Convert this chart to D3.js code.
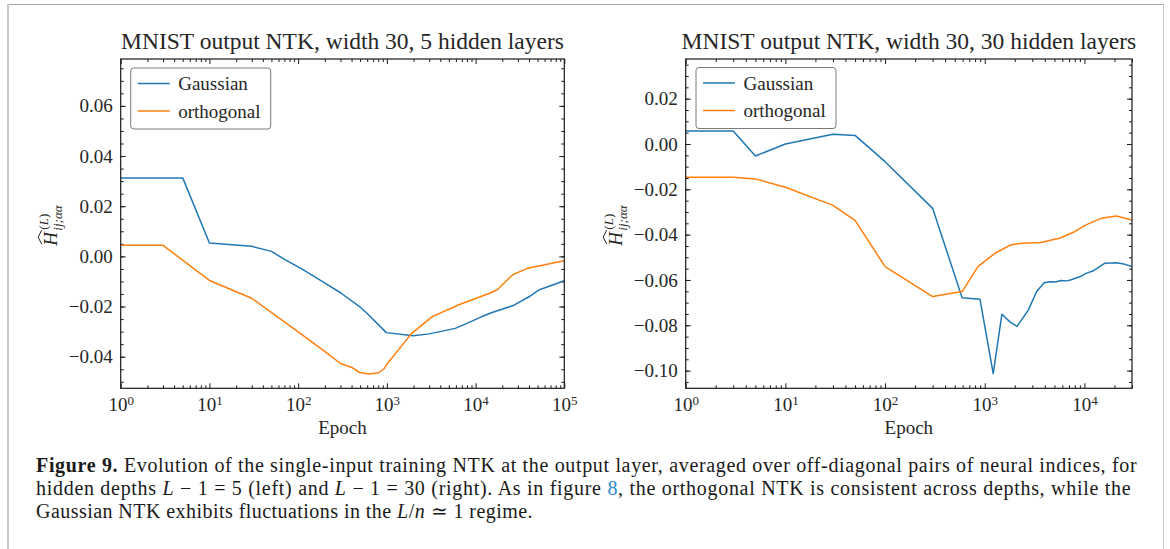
<!DOCTYPE html>
<html>
<head>
<meta charset="utf-8">
<script src="https://cdn.jsdelivr.net/npm/d3@7"></script>
<style>
  body { margin: 0; background: #fff; }
  svg { display: block; }
  text { font-family: "Liberation Serif", "Times New Roman", serif; fill: #262626; }
</style>
</head>
<body>
<svg id="fig" width="1170" height="549"></svg>
<script>
// ---- data: output-layer NTK (off-diagonal average) vs training epoch ----
// width 30, 5 hidden layers
const leftGaussianEpochs = [1, 5, 10, 30, 50, 71, 111, 201, 300, 492, 600, 986, 1977, 3000, 5900, 8000, 11800, 15900, 26180, 40000, 52400, 70000, 100000];
const leftGaussianValues = [0.0313, 0.0313, 0.0053, 0.0040, 0.0020, -0.0013, -0.0051, -0.0107, -0.0145, -0.0200, -0.0228, -0.0304, -0.0316, -0.0309, -0.0287, -0.0267, -0.0240, -0.0222, -0.0197, -0.0161, -0.0133, -0.0117, -0.0097];
const leftOrthogonalEpochs = [1, 3, 10, 30, 100, 201, 300, 403, 492, 630, 808, 938, 1000, 1880, 3250, 6500, 14400, 17600, 26180, 38900, 60000, 100000];
const leftOrthogonalValues = [0.0044, 0.0044, -0.0096, -0.0167, -0.0301, -0.0380, -0.0427, -0.0443, -0.0463, -0.0469, -0.0464, -0.0447, -0.0430, -0.0309, -0.0240, -0.0193, -0.0147, -0.0133, -0.0073, -0.0047, -0.0033, -0.0017];

// width 30, 30 hidden layers
const rightGaussianEpochs = [1, 3, 5, 10, 30, 50, 100, 300, 593, 895, 1216, 1486, 1800, 2108, 2340, 2740, 3315, 3950, 4500, 5140, 5800, 6690, 7500, 9080, 10360, 12340, 16050, 20850, 25000, 30000];
const rightGaussianValues = [0.0057, 0.0057, -0.0053, 0.0000, 0.0043, 0.0038, -0.0078, -0.0284, -0.0678, -0.0685, -0.1013, -0.0751, -0.0786, -0.0805, -0.0776, -0.0732, -0.0651, -0.0612, -0.0608, -0.0609, -0.0602, -0.0604, -0.0598, -0.0585, -0.0571, -0.0559, -0.0526, -0.0524, -0.0530, -0.0541];
const rightOrthogonalEpochs = [1, 3, 5, 10, 30, 50, 100, 300, 593, 857, 1268, 1800, 2340, 3625, 5610, 7960, 10360, 14700, 20850, 30000];
const rightOrthogonalValues = [-0.0147, -0.0147, -0.0154, -0.0191, -0.0271, -0.0337, -0.0541, -0.0673, -0.0651, -0.0540, -0.0482, -0.0446, -0.0438, -0.0435, -0.0416, -0.0387, -0.0357, -0.0328, -0.0318, -0.0335];

// ---- axis ticks and text ----
const seriesNames = ["Gaussian", "orthogonal"];
const seriesColors = ["#1f77b4", "#ff7f0e"];
const leftYTicks = [-0.04, -0.02, 0.00, 0.02, 0.04, 0.06];
const rightYTicks = [-0.10, -0.08, -0.06, -0.04, -0.02, 0.00, 0.02];
const leftXTicks = [1e0, 1e1, 1e2, 1e3, 1e4, 1e5];
const rightXTicks = [1e0, 1e1, 1e2, 1e3, 1e4];
const titles = ["MNIST output NTK, width 30, 5 hidden layers", "MNIST output NTK, width 30, 30 hidden layers"];
const xLabel = "Epoch";

const svg = d3.select("#fig");

// page frame
svg.append("line").attr("x1", 8).attr("x2", 1163).attr("y1", 4.5).attr("y2", 4.5).attr("stroke", "#a8a8a8").attr("stroke-width", 1);
svg.append("line").attr("x1", 8).attr("x2", 8).attr("y1", 4).attr("y2", 549).attr("stroke", "#c8c8c8").attr("stroke-width", 2);
svg.append("line").attr("x1", 1163.5).attr("x2", 1163.5).attr("y1", 4).attr("y2", 549).attr("stroke", "#c8c8c8").attr("stroke-width", 1);

function minorLogTicks(domain) {
  const out = [];
  for (let e = 0; e < 6; e++) {
    for (let m = 2; m <= 9; m++) {
      const v = m * Math.pow(10, e);
      if (v > domain[0] && v <= domain[1] + 1e-9) out.push(v);
    }
  }
  return out;
}
function minorLinTicks(domain, step) {
  const out = [];
  const start = Math.ceil(domain[0] / step);
  const end = Math.floor(domain[1] / step);
  for (let k = start; k <= end; k++) out.push(+(k * step).toFixed(4));
  return out;
}

function drawPanel(cfg) {
  const { x0, x1, y0, y1, xDomain, yDomain, xTicks, yTicks, title, series, legend } = cfg;
  const g = svg.append("g");
  const x = d3.scaleLog().domain(xDomain).range([x0, x1]);
  const y = d3.scaleLinear().domain(yDomain).range([y1, y0]);

  const xMinor = minorLogTicks(xDomain);
  const yMinor = minorLinTicks(yDomain, 0.005);
  const fmtY = v => d3.format(".2f")(v).replace("-", "\u2212");

  // bottom axis with labels
  const bottom = g.append("g").attr("transform", `translate(0,${y1})`)
    .call(d3.axisBottom(x).tickValues(xTicks).tickSize(-5).tickSizeOuter(0).tickPadding(9).tickFormat(() => ""));
  bottom.selectAll(".tick text").each(function(d) {
    const t = d3.select(this).attr("font-size", 19).attr("font-family", null).attr("dy", "0.74em");
    t.append("tspan").text("10");
    t.append("tspan").attr("dy", "-0.5em").attr("font-size", 13).text(Math.round(Math.log10(d)));
  });
  g.append("g").attr("transform", `translate(0,${y1})`)
    .call(d3.axisBottom(x).tickValues(xMinor).tickSize(-3).tickSizeOuter(0).tickFormat(""));
  // top axis ticks
  g.append("g").attr("transform", `translate(0,${y0})`)
    .call(d3.axisTop(x).tickValues(xTicks).tickSize(-5).tickSizeOuter(0).tickFormat(""));
  g.append("g").attr("transform", `translate(0,${y0})`)
    .call(d3.axisTop(x).tickValues(xMinor).tickSize(-3).tickSizeOuter(0).tickFormat(""));
  // left axis with labels
  const left = g.append("g").attr("transform", `translate(${x0},0)`)
    .call(d3.axisLeft(y).tickValues(yTicks).tickSize(-5).tickSizeOuter(0).tickPadding(8).tickFormat(fmtY));
  left.selectAll(".tick text").attr("font-size", 19).attr("font-family", null);
  g.append("g").attr("transform", `translate(${x0},0)`)
    .call(d3.axisLeft(y).tickValues(yMinor).tickSize(-3).tickSizeOuter(0).tickFormat(""));
  // right axis ticks
  g.append("g").attr("transform", `translate(${x1},0)`)
    .call(d3.axisRight(y).tickValues(yTicks).tickSize(-5).tickSizeOuter(0).tickFormat(""));
  g.append("g").attr("transform", `translate(${x1},0)`)
    .call(d3.axisRight(y).tickValues(yMinor).tickSize(-3).tickSizeOuter(0).tickFormat(""));

  g.selectAll(".domain").remove();
  g.selectAll(".tick line").attr("stroke", "#1a1a1a").attr("stroke-width", 1);

  // clipped series lines
  const clipId = "clip" + Math.round(x0);
  svg.append("clipPath").attr("id", clipId).append("rect")
    .attr("x", x0).attr("y", y0).attr("width", x1 - x0).attr("height", y1 - y0);
  const line = d3.line().x(d => x(d[0])).y(d => y(d[1]));
  series.forEach((s, i) => {
    const pts = s.epochs.map((e, k) => [e, s.values[k]]);
    g.append("path").datum(pts)
      .attr("clip-path", `url(#${clipId})`)
      .attr("fill", "none").attr("stroke", seriesColors[i]).attr("stroke-width", 1.5)
      .attr("stroke-linejoin", "round").attr("d", line);
  });

  // frame
  g.append("rect").attr("x", x0).attr("y", y0).attr("width", x1 - x0).attr("height", y1 - y0)
    .attr("fill", "none").attr("stroke", "#1a1a1a").attr("stroke-width", 1.2);

  // title
  g.append("text").attr("x", (x0 + x1) / 2).attr("y", 49).attr("text-anchor", "middle")
    .attr("font-size", 23.5).text(title);
  // x label
  g.append("text").attr("x", (x0 + x1) / 2).attr("y", 434).attr("text-anchor", "middle")
    .attr("font-size", 19).text(xLabel);

  // y label: H with a wide hat, (L) superscript and ij;αα subscript
  const yl = g.append("g").attr("transform", `translate(${x0 - 64},${(y0 + y1) / 2 + 6}) rotate(-90)`);
  yl.append("text").attr("x", -16).attr("y", 0).attr("font-size", 19).attr("font-style", "italic").text("H");
  yl.append("path").attr("d", "M-14.5,-15 L-7.5,-18.5 L-0.5,-15").attr("fill", "none")
    .attr("stroke", "#262626").attr("stroke-width", 1);
  const sup = yl.append("text").attr("x", 0).attr("y", -9).attr("font-size", 13);
  sup.append("tspan").text("(");
  sup.append("tspan").attr("font-style", "italic").text("L");
  sup.append("tspan").text(")");
  yl.append("text").attr("x", -1).attr("y", 5).attr("font-size", 13).attr("font-style", "italic").text("ij;\u03B1\u03B1");

  // legend
  const lg = g.append("g");
  lg.append("rect").attr("x", legend.x).attr("y", legend.y).attr("width", 140).attr("height", 61)
    .attr("rx", 3).attr("fill", "#fff").attr("fill-opacity", 0.8).attr("stroke", "#7a7a7a").attr("stroke-width", 1);
  seriesNames.forEach((name, i) => {
    const cy = legend.y + 15.5 + i * 27.5;
    lg.append("line").attr("x1", legend.x + 7).attr("x2", legend.x + 39).attr("y1", cy).attr("y2", cy)
      .attr("stroke", seriesColors[i]).attr("stroke-width", 1.5);
    lg.append("text").attr("x", legend.x + 47.5).attr("y", cy + 6.5).attr("font-size", 19).text(name);
  });
}

drawPanel({
  x0: 120.7, x1: 564.3, y0: 59, y1: 388.3,
  xDomain: [1, 1e5], yDomain: [-0.0526, 0.0787],
  xTicks: leftXTicks, yTicks: leftYTicks, title: titles[0],
  series: [
    { epochs: leftGaussianEpochs, values: leftGaussianValues },
    { epochs: leftOrthogonalEpochs, values: leftOrthogonalValues }
  ],
  legend: { x: 130.7, y: 68 }
});
drawPanel({
  x0: 685.7, x1: 1132, y0: 59, y1: 388.3,
  xDomain: [1, 3e4], yDomain: [-0.1078, 0.0375],
  xTicks: rightXTicks, yTicks: rightYTicks, title: titles[1],
  series: [
    { epochs: rightGaussianEpochs, values: rightGaussianValues },
    { epochs: rightOrthogonalEpochs, values: rightOrthogonalValues }
  ],
  legend: { x: 696, y: 67.5 }
});

// ---- caption ----
const capLines = [
  [["b", "Figure 9."], ["", " Evolution of the single-input training NTK at the output layer, averaged over off-diagonal pairs of neural indices, for"]],
  [["", "hidden depths "], ["i", "L"], ["", " \u2212 1 = 5 (left) and "], ["i", "L"], ["", " \u2212 1 = 30 (right). As in figure "], ["c", "8"], ["", ", the orthogonal NTK is consistent across depths, while the"]],
  [["", "Gaussian NTK exhibits fluctuations in the "], ["i", "L"], ["", "/"], ["i", "n"], ["", " \u2243 1 regime."]]
];
const capWidths = [1101, 1095, null];
capLines.forEach((parts, li) => {
  const t = svg.append("text").attr("x", 36).attr("y", 472 + li * 23)
    .attr("font-size", 20).attr("letter-spacing", 0.45).style("fill", "#1a1a1a");
  parts.forEach(([style, str]) => {
    const sp = t.append("tspan").text(str);
    if (style === "b") sp.attr("font-weight", "bold");
    if (style === "i") sp.attr("font-style", "italic");
    if (style === "c") sp.style("fill", "#2a8ad0");
  });
  if (capWidths[li]) t.attr("textLength", capWidths[li]).attr("lengthAdjust", "spacing");
});
</script>
</body>
</html>
